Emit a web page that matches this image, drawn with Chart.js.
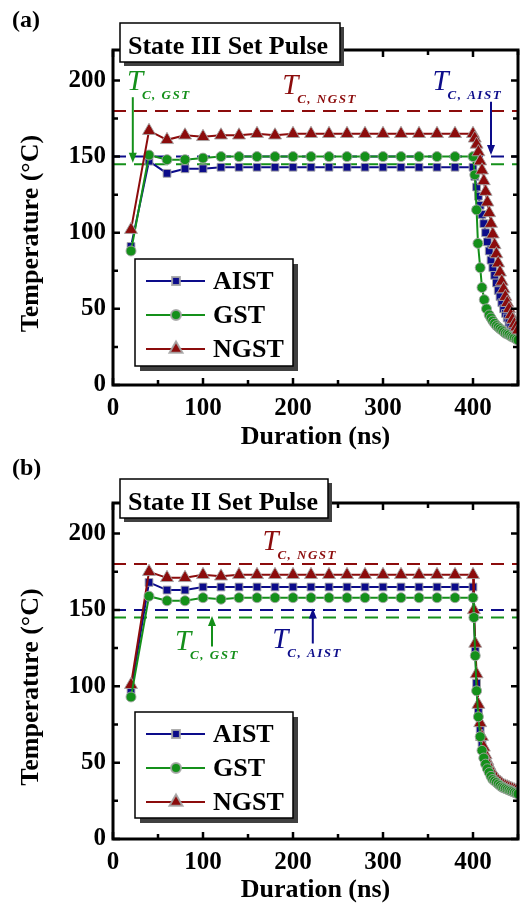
<!DOCTYPE html>
<html>
<head>
<meta charset="utf-8">
<script src="https://cdn.jsdelivr.net/npm/chart.js@4.4.1/dist/chart.umd.min.js"></script>
<style>
  html, body { margin: 0; padding: 0; background: #fff; }
  #wrap { position: relative; width: 531px; height: 906px; }
  canvas { position: absolute; left: 0; }
</style>
</head>
<body>
<div id="wrap">
  <canvas id="chartA" width="531" height="453" style="top:0"></canvas>
  <canvas id="chartB" width="531" height="453" style="top:453px"></canvas>
</div>
<script>
// ---- data ----
const seriesNames = ['AIST', 'GST', 'NGST'];
const tcValues = [150, 145, 180];          // crystallisation temps, same order
const durationRange = [0, 450];
const durationStep = 100;
const tempRange = [0, 220];
const tempStep = 50;

// heating + plateau, shared time base (ns)
const heatTimes = [20, 40, 60, 80, 100, 120, 140, 160, 180, 200, 220, 240, 260, 280, 300, 320, 340, 360, 380, 400];

// (a) State III
const aistHeatA = [91, 147, 139, 142, 142, 143, 143, 143, 143, 143, 143, 143, 143, 143, 143, 143, 143, 143, 143, 143];
const gstHeatA  = [88, 151, 148, 148, 149, 150, 150, 150, 150, 150, 150, 150, 150, 150, 150, 150, 150, 150, 150, 150];
const ngstHeatA = [102, 167, 161, 164, 163, 164, 164, 165, 164, 165, 165, 165, 165, 165, 165, 165, 165, 165, 165, 165];
const coolTimesA = [402, 404, 406, 408, 410, 412, 414, 416, 418, 420, 422, 424, 426, 428, 430, 432, 434, 436, 438, 440, 442, 444, 446, 448, 450];
const aistCoolA = [137, 130, 124, 118, 112, 106, 100, 94, 88, 82, 77, 72, 67, 62, 58, 54, 50, 47, 44, 41, 38, 36, 34, 32, 31];
const ngstCoolA = [162, 158, 153, 147, 141, 134, 127, 120, 113, 106, 99, 92, 86, 80, 74, 68, 63, 58, 54, 50, 46, 43, 40, 38, 36];
const gstCoolTimesA = [402, 404, 405.5, 408, 410, 412.5, 415, 418, 420, 422, 424, 426, 428, 430, 432, 434, 436, 438, 440, 442, 444, 446, 448, 450];
const gstCoolA = [138, 115, 93, 77, 64, 56, 50, 46, 44, 42, 40.5, 39, 38, 37, 36, 35, 34, 33.5, 33, 32, 31.5, 31, 30, 29.5];

// (b) State II
const aistHeatB = [97, 168, 163, 163, 165, 165, 165, 165, 165, 165, 165, 165, 165, 165, 165, 165, 165, 165, 165, 165];
const gstHeatB  = [93, 159, 156, 156, 158, 157, 158, 158, 158, 158, 158, 158, 158, 158, 158, 158, 158, 158, 158, 158];
const ngstHeatB = [101, 175, 171, 171, 173, 172, 173, 173, 173, 173, 173, 173, 173, 173, 173, 173, 173, 173, 173, 173];
const coolTimesB = [401, 402.5, 404, 406, 408, 410, 412, 414, 416, 418, 420, 422, 424, 426, 428, 430, 432, 434, 436, 438, 440, 442, 444, 446, 448, 450];
const aistCoolB = [148, 124, 102, 84, 72, 63, 57, 52, 48.5, 45.5, 43, 41, 39.5, 38, 37, 36, 35, 34, 33.5, 33, 32.5, 32, 31.5, 31, 30.5, 30];
const gstCoolB  = [145, 120, 97, 80, 67, 58, 53, 49, 46, 43.5, 41, 39, 38, 37, 36, 35, 34, 33.5, 33, 32.5, 32, 31.5, 31, 30.5, 30, 29.5];
const ngstCoolB = [150, 128, 108, 88, 76, 67, 60, 55, 51, 48, 45.5, 43, 41, 39.5, 38, 37, 36, 35, 34.5, 34, 33.5, 33, 32.5, 32, 31.5, 31];

// ---- styling ----
const colors = ['#0c0c8a', '#14901a', '#8c0c0c'];
const markers = ['rect', 'circle', 'triangle'];
const markerRadius = [5.5, 5, 7.5];
const serif = '"Liberation Serif", "Times New Roman", serif';

function drawArrow(ctx, x, y1, y2, color) {
  const dir = y2 > y1 ? 1 : -1;
  ctx.strokeStyle = color; ctx.fillStyle = color; ctx.lineWidth = 2;
  ctx.beginPath(); ctx.moveTo(x, y1); ctx.lineTo(x, y2 - dir * 8); ctx.stroke();
  ctx.beginPath();
  ctx.moveTo(x, y2); ctx.lineTo(x - 4, y2 - dir * 10); ctx.lineTo(x + 4, y2 - dir * 10);
  ctx.closePath(); ctx.fill();
}

function boxWithShadow(ctx, x, y, w, h, off) {
  ctx.fillStyle = '#404040'; ctx.fillRect(x + off, y + off, w, h);
  ctx.fillStyle = '#fff'; ctx.fillRect(x, y, w, h);
  ctx.strokeStyle = '#000'; ctx.lineWidth = 1.5; ctx.strokeRect(x, y, w, h);
}

const decor = {
  id: 'decor',
  afterDraw(chart, args, o) {
    const {ctx, chartArea: a, scales: {x, y}} = chart;
    ctx.save();
    // frame
    ctx.strokeStyle = '#000'; ctx.lineWidth = 3;
    ctx.strokeRect(a.left, a.top, a.right - a.left, a.bottom - a.top);
    // inward ticks on all four sides
    const xt = x.ticks.map(t => t.value), yt = y.ticks.map(t => t.value);
    ctx.lineWidth = 2.5;
    const xs = (xt[1] - xt[0]) / 2;
    for (let v = x.min; v <= x.max; v += xs) {
      const len = xt.includes(v) ? 7 : 5, px = x.getPixelForValue(v);
      ctx.beginPath(); ctx.moveTo(px, a.bottom); ctx.lineTo(px, a.bottom - len);
      ctx.moveTo(px, a.top); ctx.lineTo(px, a.top + len); ctx.stroke();
    }
    const ys = (yt[1] - yt[0]) / 2;
    for (let v = y.min; v <= y.max; v += ys) {
      const len = yt.includes(v) ? 7 : 5, py = y.getPixelForValue(v);
      ctx.beginPath(); ctx.moveTo(a.left, py); ctx.lineTo(a.left + len, py);
      ctx.moveTo(a.right, py); ctx.lineTo(a.right - len, py); ctx.stroke();
    }
    // y axis title
    ctx.save();
    ctx.translate(31, (a.top + a.bottom) / 2 + 16);
    ctx.rotate(-Math.PI / 2);
    ctx.fillStyle = '#000'; ctx.font = 'bold 26px ' + serif;
    ctx.textAlign = 'center'; ctx.textBaseline = 'middle';
    ctx.fillText('Temperature (\u00b0C)', 0, 0);
    ctx.restore();
    // T_C annotations
    o.notes.forEach(n => {
      const px = x.getPixelForValue(n.at[0]), py = y.getPixelForValue(n.at[1]);
      ctx.fillStyle = colors[n.s];
      ctx.textAlign = 'left'; ctx.textBaseline = 'alphabetic';
      ctx.font = 'italic 29px ' + serif;
      ctx.fillText('T', px, py);
      ctx.font = 'italic bold 13px ' + serif;
      ctx.letterSpacing = '1.5px';
      ctx.fillText('C, ' + seriesNames[n.s], px + 15, py + 9);
      ctx.letterSpacing = '0px';
      if (n.arrow) {
        const ax = x.getPixelForValue(n.arrow[0]);
        drawArrow(ctx, ax, y.getPixelForValue(n.arrow[1]), y.getPixelForValue(n.arrow[2]), colors[n.s]);
      }
    });
    // legend
    const L = o.legend;
    boxWithShadow(ctx, L.x, L.y, L.w, L.h, 5);
    chart.data.datasets.filter(d => d.label).forEach((d, i) => {
      const ry = L.y + 22 + i * 34;
      ctx.strokeStyle = d.borderColor; ctx.lineWidth = 2;
      ctx.beginPath(); ctx.moveTo(L.x + 11, ry); ctx.lineTo(L.x + 70, ry); ctx.stroke();
      ctx.fillStyle = d.backgroundColor; ctx.strokeStyle = d.pointBorderColor;
      Chart.helpers.drawPoint(ctx, {pointStyle: d.pointStyle, radius: d.pointRadius, borderWidth: 1, rotation: 0}, L.x + 41, ry);
      ctx.fillStyle = '#000'; ctx.font = 'bold 26px ' + serif;
      ctx.textAlign = 'left'; ctx.textBaseline = 'middle';
      ctx.fillText(d.label, L.x + 78, ry + 1);
    });
    // title box
    const T = o.title;
    boxWithShadow(ctx, T.x, T.y, T.w, T.h, 4);
    ctx.fillStyle = '#000'; ctx.font = 'bold 26px ' + serif;
    ctx.textAlign = 'left'; ctx.textBaseline = 'alphabetic';
    ctx.fillText(T.text, T.x + 8, T.base);
    // panel letter
    ctx.font = 'bold 24px ' + serif;
    ctx.fillText(o.letter.text, 12, o.letter.base);
    ctx.restore();
  }
};

function makePanel(id, p) {
  const datasets = seriesNames.map((name, i) => ({
    label: name,
    data: heatTimes.map((t, k) => ({x: t, y: p.heat[i][k]}))
      .concat(p.coolTimes[i].map((t, k) => ({x: t, y: p.cool[i][k]}))),
    borderColor: colors[i],
    backgroundColor: colors[i],
    borderWidth: 2,
    pointStyle: markers[i],
    pointRadius: markerRadius[i],
    pointBorderColor: 'rgba(165,165,165,0.9)',
    pointBorderWidth: 1,
    order: p.layer[i]
  }));
  tcValues.forEach((v, i) => datasets.push({
    label: '',
    data: [{x: durationRange[0], y: v}, {x: durationRange[1], y: v}],
    borderColor: colors[i],
    borderWidth: 2,
    borderDash: [13, 8],
    pointRadius: 0,
    order: 10
  }));

  new Chart(document.getElementById(id), {
    type: 'line',
    data: {datasets},
    plugins: [decor],
    options: {
      responsive: false,
      animation: false,
      events: [],
      layout: {padding: {top: 50, right: 13, left: 0, bottom: 0}},
      plugins: {
        legend: {display: false},
        tooltip: {enabled: false},
        decor: p.decor
      },
      scales: {
        x: {
          type: 'linear',
          min: durationRange[0], max: durationRange[1],
          grid: {display: false, drawTicks: false},
          border: {display: false},
          ticks: {stepSize: durationStep, includeBounds: false, maxRotation: 0, autoSkip: false,
                  padding: 9, color: '#000', font: {family: serif, size: 25, weight: 'bold'}},
          title: {display: true, text: 'Duration (ns)', color: '#000', padding: 0,
                  font: {family: serif, size: 26, weight: 'bold'}},
          afterFit: s => { s.height = p.xHeight; }
        },
        y: {
          min: tempRange[0], max: tempRange[1],
          grid: {display: false, drawTicks: false},
          border: {display: false},
          ticks: {stepSize: tempStep, includeBounds: false, padding: 7, color: '#000',
                  font: {family: serif, size: 25, weight: 'bold'}},
          afterFit: s => { s.width = 113; }
        }
      }
    }
  });
}

makePanel('chartA', {
  heat: [aistHeatA, gstHeatA, ngstHeatA],
  coolTimes: [coolTimesA, gstCoolTimesA, coolTimesA],
  cool: [aistCoolA, gstCoolA, ngstCoolA],
  layer: [3, 2, 1],
  xHeight: 68,
  decor: {
    title: {text: 'State III Set Pulse', x: 120, y: 23, w: 220, h: 39, base: 54},
    letter: {text: '(a)', base: 27},
    legend: {x: 135, y: 259, w: 158, h: 107},
    notes: [
      {s: 1, at: [15.5, 194], arrow: [22, 189, 146]},
      {s: 2, at: [188, 191]},
      {s: 0, at: [355, 194], arrow: [420, 186, 151]}
    ]
  }
});

makePanel('chartB', {
  heat: [aistHeatB, gstHeatB, ngstHeatB],
  coolTimes: [coolTimesB, coolTimesB, coolTimesB],
  cool: [aistCoolB, gstCoolB, ngstCoolB],
  layer: [3, 1, 2],
  xHeight: 67,
  decor: {
    title: {text: 'State II Set Pulse', x: 120, y: 26, w: 208, h: 39, base: 57},
    letter: {text: '(b)', base: 22},
    legend: {x: 135, y: 259, w: 158, h: 106},
    notes: [
      {s: 2, at: [166, 189]},
      {s: 1, at: [69, 124], arrow: [110, 126, 146]},
      {s: 0, at: [177, 125], arrow: [222, 128, 151]}
    ]
  }
});
</script>
</body>
</html>
